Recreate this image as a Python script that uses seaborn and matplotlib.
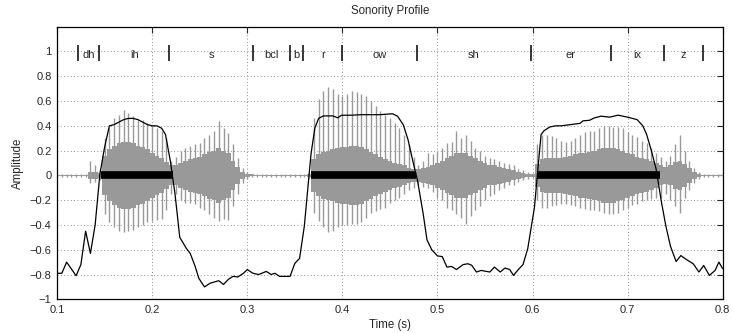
import numpy as np
import pandas as pd
import seaborn as sns
import matplotlib
matplotlib.use("Agg")
import matplotlib.pyplot as plt

# waveform envelope sampled every 5 ms (0.100 .. 0.800 s)
wav_t = np.round(np.arange(0.100, 0.8001, 0.005), 3)
wav_hi = [0.01, 0.01, 0.01, 0.01, 0.01, 0.01, 0.01, 0.12, 0.08, 0.05,
          0.30, 0.38, 0.46, 0.49, 0.53, 0.50, 0.48, 0.45, 0.45, 0.42,
          0.40, 0.38, 0.36, 0.30, 0.12, 0.15, 0.20, 0.22, 0.24, 0.25,
          0.26, 0.30, 0.33, 0.36, 0.44, 0.38, 0.34, 0.25, 0.14, 0.06,
          0.03, 0.015, 0.01, 0.01, 0.01, 0.01, 0.01, 0.01, 0.01, 0.01,
          0.01, 0.01, 0.01, 0.02, 0.46, 0.62, 0.68, 0.71, 0.70, 0.66,
          0.64, 0.66, 0.68, 0.67, 0.66, 0.64, 0.60, 0.56, 0.52, 0.49,
          0.46, 0.42, 0.38, 0.33, 0.25, 0.15, 0.08, 0.12, 0.18, 0.17,
          0.19, 0.22, 0.26, 0.27, 0.36, 0.30, 0.33, 0.28, 0.22, 0.20,
          0.16, 0.14, 0.13, 0.12, 0.10, 0.09, 0.08, 0.05, 0.04, 0.03,
          0.02, 0.25, 0.33, 0.33, 0.32, 0.30, 0.28, 0.27, 0.28, 0.30,
          0.33, 0.35, 0.36, 0.36, 0.38, 0.40, 0.40, 0.39, 0.39, 0.38,
          0.35, 0.33, 0.31, 0.28, 0.26, 0.22, 0.18, 0.15, 0.12, 0.16,
          0.25, 0.33, 0.20, 0.12, 0.06, 0.03, 0.01, 0.01, 0.01, 0.01,
          0.01]
wav_lo = [-0.01, -0.01, -0.01, -0.01, -0.01, -0.01, -0.01, -0.06, -0.05, -0.04,
          -0.31, -0.38, -0.42, -0.45, -0.46, -0.45, -0.44, -0.42, -0.40, -0.38,
          -0.37, -0.36, -0.35, -0.28, -0.15, -0.15, -0.20, -0.22, -0.22, -0.23,
          -0.26, -0.28, -0.31, -0.34, -0.37, -0.35, -0.36, -0.25, -0.15, -0.06,
          -0.03, -0.015, -0.01, -0.01, -0.01, -0.01, -0.01, -0.01, -0.01, -0.01,
          -0.01, -0.01, -0.01, -0.02, -0.30, -0.37, -0.42, -0.46, -0.45, -0.42,
          -0.40, -0.40, -0.39, -0.39, -0.38, -0.34, -0.30, -0.29, -0.27, -0.26,
          -0.22, -0.20, -0.18, -0.15, -0.12, -0.10, -0.08, -0.09, -0.10, -0.13,
          -0.18, -0.20, -0.26, -0.28, -0.31, -0.34, -0.39, -0.33, -0.28, -0.25,
          -0.20, -0.17, -0.15, -0.12, -0.10, -0.08, -0.08, -0.05, -0.04, -0.03,
          -0.02, -0.20, -0.26, -0.26, -0.25, -0.24, -0.23, -0.23, -0.24, -0.25,
          -0.26, -0.27, -0.28, -0.28, -0.29, -0.30, -0.31, -0.31, -0.30, -0.28,
          -0.26, -0.24, -0.23, -0.21, -0.20, -0.19, -0.18, -0.18, -0.15, -0.20,
          -0.25, -0.30, -0.18, -0.12, -0.06, -0.03, -0.01, -0.01, -0.01, -0.01,
          -0.01]
wav_core = [0.005, 0.005, 0.005, 0.005, 0.005, 0.005, 0.005, 0.03, 0.03, 0.02,
            0.16, 0.21, 0.24, 0.26, 0.27, 0.27, 0.26, 0.24, 0.23, 0.21,
            0.18, 0.16, 0.14, 0.11, 0.08, 0.08, 0.10, 0.12, 0.13, 0.14,
            0.15, 0.17, 0.19, 0.20, 0.22, 0.20, 0.18, 0.12, 0.07, 0.03,
            0.015, 0.008, 0.005, 0.005, 0.005, 0.005, 0.005, 0.005, 0.005, 0.005,
            0.005, 0.005, 0.005, 0.01, 0.13, 0.17, 0.19, 0.20, 0.21, 0.22,
            0.23, 0.23, 0.24, 0.24, 0.23, 0.21, 0.19, 0.17, 0.15, 0.13,
            0.12, 0.10, 0.09, 0.08, 0.06, 0.05, 0.05, 0.06, 0.07, 0.08,
            0.10, 0.12, 0.14, 0.16, 0.18, 0.18, 0.18, 0.16, 0.14, 0.12,
            0.10, 0.08, 0.08, 0.07, 0.06, 0.05, 0.04, 0.03, 0.02, 0.015,
            0.01, 0.09, 0.13, 0.14, 0.14, 0.14, 0.14, 0.15, 0.16, 0.17,
            0.18, 0.18, 0.19, 0.20, 0.21, 0.22, 0.22, 0.22, 0.21, 0.20,
            0.18, 0.17, 0.15, 0.14, 0.13, 0.12, 0.10, 0.08, 0.07, 0.08,
            0.11, 0.12, 0.09, 0.06, 0.03, 0.015, 0.005, 0.005, 0.005, 0.005,
            0.005]

# sonority profile
son_t = [0.100, 0.105, 0.110, 0.120, 0.125, 0.130, 0.135, 0.140, 0.145, 0.150,
         0.155, 0.160, 0.165, 0.170, 0.175, 0.180, 0.185, 0.190, 0.195, 0.200,
         0.205, 0.210, 0.214, 0.219, 0.224, 0.229, 0.236, 0.240, 0.245, 0.249,
         0.255, 0.261, 0.270, 0.275, 0.280, 0.285, 0.290, 0.296, 0.300, 0.306,
         0.312, 0.320, 0.325, 0.329, 0.334, 0.345, 0.350, 0.355, 0.360, 0.367,
         0.371, 0.375, 0.380, 0.390, 0.395, 0.399, 0.410, 0.420, 0.430, 0.440,
         0.448, 0.453, 0.458, 0.464, 0.469, 0.474, 0.479, 0.485, 0.489, 0.494,
         0.500, 0.505, 0.510, 0.515, 0.520, 0.527, 0.532, 0.536, 0.541, 0.546,
         0.555, 0.560, 0.566, 0.571, 0.576, 0.580, 0.585, 0.590, 0.595, 0.599,
         0.602, 0.6055, 0.609, 0.612, 0.618, 0.624, 0.630, 0.640, 0.650, 0.653,
         0.660, 0.665, 0.672, 0.681, 0.690, 0.700, 0.710, 0.716, 0.720, 0.725,
         0.730, 0.735, 0.740, 0.745, 0.751, 0.756, 0.762, 0.769, 0.775, 0.780,
         0.786, 0.792, 0.796, 0.800]
son_y = [-0.79, -0.79, -0.70, -0.81, -0.72, -0.45, -0.63, -0.40, 0.01, 0.23,
         0.40, 0.41, 0.43, 0.45, 0.46, 0.46, 0.45, 0.43, 0.41, 0.40,
         0.40, 0.38, 0.33, 0.12, -0.15, -0.50, -0.59, -0.63, -0.73, -0.83,
         -0.90, -0.87, -0.85, -0.88, -0.84, -0.815, -0.82, -0.79, -0.76, -0.79,
         -0.80, -0.775, -0.80, -0.79, -0.815, -0.815, -0.71, -0.67, -0.41, 0.17,
         0.38, 0.46, 0.48, 0.48, 0.465, 0.485, 0.486, 0.49, 0.49, 0.49,
         0.495, 0.497, 0.478, 0.41, 0.29, 0.12, -0.04, -0.31, -0.52, -0.60,
         -0.65, -0.655, -0.74, -0.735, -0.76, -0.72, -0.713, -0.725, -0.78, -0.767,
         -0.78, -0.74, -0.78, -0.748, -0.76, -0.807, -0.76, -0.72, -0.59, -0.40,
         -0.26, 0.04, 0.33, 0.36, 0.39, 0.40, 0.40, 0.41, 0.42, 0.44,
         0.445, 0.464, 0.478, 0.47, 0.486, 0.47, 0.45, 0.40, 0.33, 0.20,
         0.05, -0.19, -0.40, -0.57, -0.695, -0.647, -0.68, -0.713, -0.78, -0.727,
         -0.807, -0.767, -0.70, -0.753]

# voiced regions
voiced_start = [0.1463, 0.367, 0.605]
voiced_end = [0.2216, 0.4772, 0.734]

# phone segmentation
bounds = [0.1224, 0.1445, 0.2181, 0.3064, 0.345, 0.359, 0.400, 0.4782,
          0.5981, 0.6822, 0.7383, 0.779]
phones = ["dh", "ih", "s", "bcl", "b", "r", "ow", "sh", "er", "ix", "z"]

x_ticks = [0.1, 0.2, 0.3, 0.4, 0.5, 0.6, 0.7, 0.8]
x_labels = ["0.1", "0.2", "0.3", "0.4", "0.5", "0.6", "0.7", "0.8"]
y_ticks = [-1, -0.8, -0.6, -0.4, -0.2, 0, 0.2, 0.4, 0.6, 0.8, 1]
y_labels = ["\u22121", "\u22120.8", "\u22120.6", "\u22120.4", "\u22120.2", "0",
            "0.2", "0.4", "0.6", "0.8", "1"]

sns.set_style("white")
plt.rcParams["font.family"] = ["Liberation Sans", "DejaVu Sans"]
plt.rcParams["font.size"] = 8

fig, ax = plt.subplots(figsize=(7.34, 3.33), dpi=100)
fig.subplots_adjust(left=0.0778, right=0.9846, bottom=0.1012, top=0.9198)

gray = "#999999"
ax.fill_between(wav_t, -np.array(wav_core), wav_core, color=gray, lw=0,
                step="mid", zorder=2)
ax.vlines(wav_t, wav_lo, wav_hi, color=gray, lw=1.0, zorder=2)

ax.hlines([0] * len(voiced_start), voiced_start, voiced_end, color="black",
          lw=5.5, capstyle="butt", zorder=3)

son = pd.DataFrame({"t": son_t, "y": son_y})
sns.lineplot(data=son, x="t", y="y", ax=ax, color="black", lw=0.9, zorder=4,
             sort=False)

ax.vlines(bounds, 0.92, 1.05, color="black", lw=1.1, zorder=4)
for a, b, ph in zip(bounds[:-1], bounds[1:], phones):
    ax.text((a + b) / 2, 0.975, ph, ha="center", va="center", fontsize=8,
            zorder=5)

ax.set_xlim(0.1, 0.8)
ax.set_ylim(-1, 1.2)
ax.set_xticks(x_ticks)
ax.set_xticklabels(x_labels)
ax.set_yticks(y_ticks)
ax.set_yticklabels(y_labels)
ax.grid(True, color="0.4", linestyle=(0, (1, 3)), lw=0.6)
ax.tick_params(direction="in", length=4, width=0.8, top=True, right=True,
               labelsize=8, pad=4)
for s in ax.spines.values():
    s.set_linewidth(0.9)
    s.set_color("black")

ax.set_title("Sonority Profile", fontsize=8.3, pad=9)
ax.set_xlabel("Time (s)", fontsize=8.3, labelpad=3)
ax.set_ylabel("Amplitude", fontsize=8.3, labelpad=4)

fig.savefig("out.png", dpi=100)
